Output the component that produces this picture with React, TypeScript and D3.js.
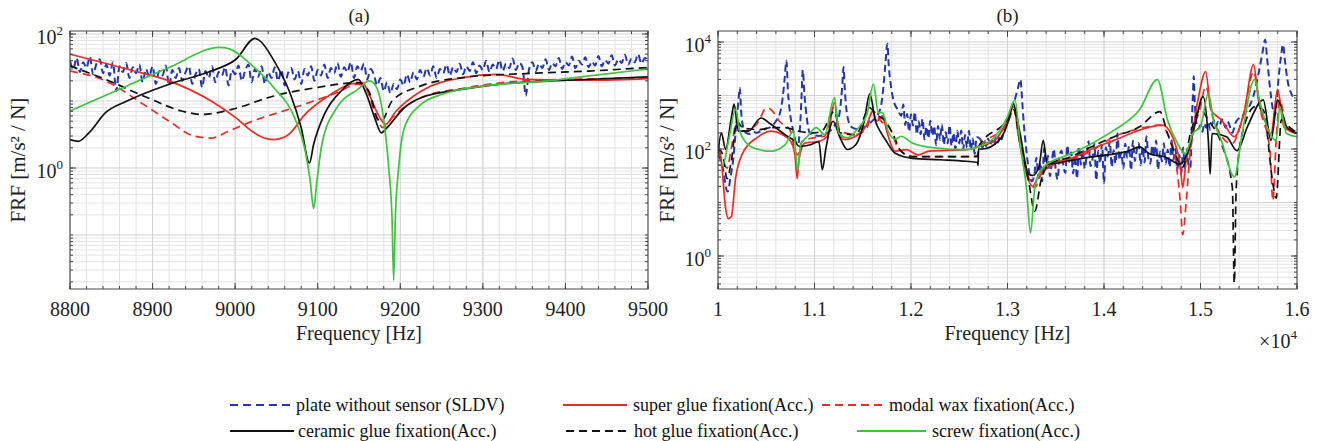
import * as d3 from "d3";
import React from "react";

type Pt = [number, number];

const FONT = "'Liberation Serif', Tinos, 'Times New Roman', 'DejaVu Serif', serif";
const W = 1323;
const H = 441;

// ---------- panel (a): 8800 - 9500 Hz ----------
const freqTicksA = [8800, 8900, 9000, 9100, 9200, 9300, 9400, 9500];
const decadesA = [0, 2];

const sldvA: Pt[] = [
  [8800, 40], [8804, 30], [8808, 44], [8812, 27], [8816, 38], [8820, 31], [8824, 46], [8828, 25],
  [8832, 36], [8836, 42], [8840, 26], [8844, 35], [8848, 24], [8852, 38], [8856, 14], [8860, 33],
  [8864, 27], [8868, 37], [8872, 22], [8876, 32], [8880, 26], [8884, 35], [8888, 19], [8892, 30],
  [8896, 23], [8900, 33], [8904, 18], [8908, 28], [8912, 24], [8916, 34], [8920, 17], [8924, 29],
  [8928, 22], [8932, 31], [8936, 20], [8940, 27], [8944, 33], [8948, 18], [8952, 25], [8956, 30],
  [8960, 16], [8964, 28], [8968, 22], [8972, 33], [8976, 19], [8980, 27], [8984, 24], [8988, 32],
  [8992, 17], [8996, 29], [9000, 25], [9004, 34], [9008, 20], [9012, 28], [9016, 35], [9020, 19],
  [9024, 30], [9028, 23], [9032, 33], [9036, 18], [9040, 27], [9044, 22], [9048, 32], [9052, 20],
  [9056, 29], [9060, 17], [9064, 26], [9068, 31], [9072, 21], [9076, 28], [9080, 18], [9084, 30],
  [9088, 24], [9092, 33], [9096, 20], [9100, 29], [9104, 24], [9108, 35], [9112, 22], [9116, 31],
  [9120, 26], [9124, 37], [9128, 23], [9132, 32], [9136, 27], [9140, 38], [9144, 22], [9148, 33],
  [9152, 28], [9156, 36], [9160, 21], [9164, 30], [9168, 25], [9172, 17], [9176, 22], [9180, 14],
  [9184, 19], [9188, 13], [9192, 18], [9196, 15], [9200, 21], [9204, 17], [9208, 25], [9212, 19],
  [9216, 27], [9220, 21], [9224, 29], [9228, 23], [9232, 31], [9236, 24], [9240, 33], [9244, 22],
  [9248, 30], [9252, 26], [9256, 35], [9260, 24], [9264, 32], [9268, 27], [9272, 36], [9276, 25],
  [9280, 33], [9284, 28], [9288, 38], [9292, 26], [9296, 34], [9300, 29], [9304, 40], [9308, 27],
  [9312, 35], [9316, 30], [9320, 41], [9324, 28], [9328, 36], [9332, 31], [9336, 43], [9340, 29],
  [9344, 37], [9348, 32], [9352, 12], [9356, 30], [9360, 38], [9364, 28], [9368, 36], [9372, 31],
  [9376, 42], [9380, 29], [9384, 37], [9388, 33], [9392, 44], [9396, 30], [9400, 38], [9404, 34],
  [9408, 46], [9412, 31], [9416, 40], [9420, 35], [9424, 45], [9428, 32], [9432, 39], [9436, 34],
  [9440, 47], [9444, 33], [9448, 41], [9452, 36], [9456, 48], [9460, 34], [9464, 42], [9468, 37],
  [9472, 49], [9476, 35], [9480, 43], [9484, 38], [9488, 50], [9492, 36], [9496, 44], [9500, 40],
];

const superGlueA: Pt[] = [
  [8800, 50], [8869, 30], [8920, 20], [8971, 10], [9001, 5.6], [9021, 3.5], [9035, 2.8], [9047, 2.66],
  [9060, 2.9], [9067, 3.35], [9083, 6], [9113, 11.9], [9139, 17.8], [9154, 18.8], [9164, 11.2],
  [9174, 6], [9182, 4.5], [9195, 7.1], [9225, 14], [9276, 22.4], [9317, 25], [9352, 21], [9429, 20.4],
  [9500, 21.6],
];

const modalWaxA: Pt[] = [
  [8800, 28], [8843, 20], [8889, 8.9], [8920, 5], [8950, 3], [8971, 2.8], [8991, 3.5], [9021, 5],
  [9072, 8], [9123, 13.3], [9149, 17.8], [9159, 15], [9172, 5.3], [9179, 4], [9190, 5.6],
  [9225, 11.2], [9276, 15.5], [9352, 20], [9500, 22],
];

const ceramicA: Pt[] = [
  [8800, 2.66], [8810, 2.5], [8823, 3.35], [8843, 6.7], [8869, 10], [8920, 17.8], [8971, 28],
  [9001, 42], [9024, 86], [9029, 81], [9047, 40], [9067, 12.6], [9080, 4], [9090, 1.19], [9095, 2.24],
  [9108, 6.3], [9128, 14], [9149, 21], [9159, 12.6], [9169, 5.6], [9177, 3.35], [9184, 4],
  [9205, 8], [9225, 11.2], [9276, 15], [9327, 18.2], [9403, 20.4], [9500, 23],
];

const hotGlueA: Pt[] = [
  [8800, 33.5], [8843, 21], [8894, 11.2], [8935, 7.1], [8960, 6.3], [8996, 7.5], [9047, 11.9],
  [9098, 15.8], [9149, 18.8], [9162, 14], [9172, 5.6], [9177, 5], [9190, 10], [9225, 16.8],
  [9276, 22.4], [9352, 25.7], [9429, 28], [9500, 31.6],
];

const screwA: Pt[] = [
  [8800, 7.1], [8869, 16.8], [8920, 31.6], [8981, 63], [8993, 60], [9021, 33.5], [9047, 15.8],
  [9072, 5.6], [9085, 1.78], [9091, 0.63], [9095, 0.25], [9099, 0.63], [9105, 2.24], [9123, 7.9],
  [9149, 15], [9162, 20], [9169, 17.8], [9179, 6.3], [9186, 1], [9190, 0.178], [9192, 0.021],
  [9194, 0.178], [9198, 1], [9205, 4], [9225, 8.9], [9251, 12.6], [9302, 16.8], [9378, 20],
  [9429, 23.7], [9500, 30],
];

// ---------- panel (b): 1.0 - 1.6 x10^4 Hz ----------
const freqTicksB = [1, 1.1, 1.2, 1.3, 1.4, 1.5, 1.6];
const decadesB = [0, 2, 4];

const sldvB: Pt[] = [
  [10000, 78], [10030, 60], [10060, 35], [10080, 20], [10100, 16], [10130, 30], [10160, 70],
  [10190, 300], [10215, 900], [10226, 1400], [10240, 500], [10260, 260], [10290, 200], [10330, 190],
  [10370, 210], [10400, 200], [10450, 220], [10500, 240], [10550, 260], [10600, 330], [10640, 450],
  [10670, 900], [10690, 2000], [10709, 4500], [10725, 1200], [10750, 420], [10780, 220], [10810, 130],
  [10830, 120], [10850, 260], [10865, 900], [10879, 3000], [10895, 1100], [10920, 380], [10950, 200],
  [11000, 180], [11050, 175], [11100, 190], [11150, 210], [11200, 260], [11250, 380], [11275, 800],
  [11290, 1800], [11301, 3400], [11315, 1200], [11340, 420], [11380, 260], [11420, 240], [11470, 230],
  [11520, 260], [11570, 300], [11610, 350], [11650, 420], [11690, 650], [11715, 1500], [11735, 4000],
  [11755, 9300], [11770, 3500], [11790, 1600], [11820, 800], [11860, 550], [11900, 420],
  [11920, 676], [11940, 282], [11960, 452], [11980, 211], [12000, 447], [12020, 275], [12040, 495],
  [12060, 188], [12080, 331], [12100, 188], [12120, 367], [12140, 151], [12160, 263], [12180, 158],
  [12200, 339], [12220, 176], [12240, 272], [12260, 119], [12280, 269], [12300, 148], [12320, 288],
  [12340, 119], [12360, 207], [12380, 127], [12400, 279], [12420, 115], [12440, 200], [12460, 100],
  [12480, 219], [12500, 127], [12520, 221], [12540, 97], [12560, 182], [12580, 106], [12600, 219],
  [12620, 95], [12640, 157], [12660, 81], [12680, 168],
  [12720, 151], [12740, 105], [12760, 141], [12780, 112], [12800, 158], [12820, 115], [12840, 148],
  [12860, 120], [12880, 166], [12900, 132], [12920, 178], [12940, 151], [12960, 209], [12980, 251],
  [13000, 355], [13040, 562], [13080, 891], [13110, 1413], [13135, 2000], [13150, 891], [13170, 282],
  [13200, 79], [13230, 32], [13255, 25], [13280, 35],
  [13300, 69], [13320, 29], [13340, 56], [13360, 25], [13380, 103], [13400, 43], [13420, 75], [13440, 31],
  [13460, 57], [13480, 100], [13500, 40], [13520, 27], [13540, 77], [13560, 93], [13580, 48], [13600, 36],
  [13620, 117], [13640, 57], [13660, 86], [13680, 35], [13700, 74], [13720, 28], [13740, 111], [13760, 51],
  [13780, 100], [13800, 43], [13820, 76], [13840, 140], [13860, 48], [13880, 63], [13900, 126], [13920, 26],
  [13940, 93], [13960, 54], [13980, 122], [14000, 23], [14020, 108], [14040, 73], [14060, 141], [14080, 46],
  [14100, 95], [14120, 54], [14140, 194], [14160, 62], [14180, 87], [14200, 43], [14220, 126], [14240, 69],
  [14260, 113], [14280, 40], [14300, 142], [14320, 60], [14340, 98], [14360, 129], [14380, 50], [14400, 109],
  [14420, 56], [14440, 174], [14460, 68], [14480, 53], [14500, 118], [14520, 74], [14540, 145], [14560, 41],
  [14580, 90], [14600, 59], [14620, 128], [14640, 53], [14660, 97], [14680, 46], [14700, 145], [14720, 63],
  [14740, 100], [14760, 41], [14780, 77], [14800, 34], [14820, 107], [14840, 44], [14860, 79], [14880, 46],
  [14895, 45], [14910, 300], [14920, 900], [14930, 2300], [14940, 800], [14955, 330], [14980, 240],
  [15000, 280], [15020, 210], [15040, 300], [15060, 250], [15080, 320], [15100, 230], [15120, 290],
  [15140, 340], [15160, 260], [15180, 320], [15200, 280], [15220, 360], [15240, 300], [15260, 250],
  [15280, 330], [15300, 280], [15330, 200], [15360, 300], [15400, 380], [15450, 450], [15500, 600],
  [15550, 1000], [15600, 2500], [15640, 6000], [15670, 11000], [15690, 5000], [15720, 1400],
  [15750, 550], [15770, 420], [15790, 800], [15810, 2200], [15835, 5500], [15855, 9000], [15875, 4500],
  [15900, 2000], [15940, 1100], [15970, 900], [16000, 830],
];

const superGlueB: Pt[] = [
  [10000, 120], [10035, 59], [10079, 7.8], [10108, 5], [10138, 5.4], [10182, 28], [10255, 83],
  [10401, 162], [10548, 215], [10665, 186], [10753, 139], [10797, 78], [10820, 28], [10841, 67],
  [10900, 129], [11046, 139], [11134, 173], [11207, 740], [11251, 215], [11310, 150], [11427, 173],
  [11544, 290], [11603, 510], [11647, 330], [11705, 415], [11749, 215], [11837, 91], [11954, 97],
  [12071, 78], [12189, 91], [12570, 97], [12696, 110], [12870, 145], [13000, 350], [13065, 620],
  [13109, 195], [13196, 34], [13261, 20], [13326, 34], [13435, 52], [13652, 66], [13870, 100],
  [14105, 145], [14368, 225], [14605, 280], [14737, 125], [14790, 50], [14816, 19], [14850, 60],
  [14895, 110], [14974, 830], [15054, 2800], [15108, 540], [15216, 350], [15351, 170], [15450, 470],
  [15550, 3800], [15600, 830], [15680, 300], [15730, 195], [15800, 1290], [15865, 260], [16000, 195],
];

const modalWaxB: Pt[] = [
  [10000, 91], [10050, 59], [10094, 44], [10138, 105], [10196, 330], [10255, 215], [10401, 290],
  [10504, 580], [10548, 550], [10636, 330], [10753, 215], [10797, 91], [10826, 78], [10870, 138],
  [10987, 162], [11105, 173], [11207, 630], [11265, 215], [11427, 186], [11544, 250], [11603, 510],
  [11690, 330], [11778, 250], [11866, 105], [12013, 72], [12306, 72], [12570, 72], [12690, 76],
  [12700, 100], [13000, 300], [13065, 540], [13130, 145], [13217, 30], [13283, 19], [13348, 34],
  [13435, 46], [13652, 62], [13870, 93], [14105, 170], [14368, 240], [14579, 280], [14658, 195],
  [14737, 71], [14789, 11], [14816, 2.5], [14853, 11], [14895, 93], [15000, 620], [15054, 1480],
  [15135, 350], [15324, 126], [15450, 470], [15550, 2800], [15620, 540], [15720, 93], [15750, 10.8],
  [15784, 145], [15822, 830], [15892, 260], [16000, 210],
];

const ceramicB: Pt[] = [
  [10000, 83], [10035, 200], [10079, 98], [10138, 380], [10167, 690], [10211, 215], [10314, 215],
  [10445, 380], [10548, 290], [10694, 186], [10797, 138], [10841, 112], [10958, 120], [11046, 138],
  [11081, 41], [11119, 105], [11192, 330], [11265, 162], [11339, 98], [11427, 120], [11515, 330],
  [11573, 1070], [11632, 330], [11690, 200], [11734, 150], [11837, 83], [12013, 67], [12306, 63],
  [12570, 59], [12690, 56], [12695, 49], [12700, 100], [12740, 100], [12913, 145], [13022, 400],
  [13057, 725], [13130, 195], [13217, 34], [13261, 32], [13326, 46], [13370, 145], [13413, 52],
  [13652, 61], [13870, 71], [14105, 81], [14263, 93], [14368, 110], [14474, 81], [14632, 71],
  [14789, 52], [14868, 87], [14937, 260], [15027, 950], [15081, 145], [15100, 34], [15120, 195],
  [15270, 170], [15378, 93], [15486, 260], [15650, 830], [15730, 145], [15800, 830], [15892, 260],
  [16000, 195],
];

const hotGlueB: Pt[] = [
  [10000, 105], [10050, 78], [10094, 28], [10138, 59], [10196, 330], [10255, 250], [10431, 230],
  [10548, 250], [10694, 250], [10841, 215], [10987, 200], [11075, 215], [11207, 510], [11265, 200],
  [11427, 186], [11573, 590], [11632, 450], [11720, 355], [11808, 200], [11896, 91], [12013, 72],
  [12306, 72], [12570, 72], [12690, 72], [12700, 110], [13000, 350], [13065, 540], [13130, 126],
  [13217, 26], [13283, 6.9], [13348, 26], [13435, 52], [13652, 71], [13870, 110], [14105, 170],
  [14368, 260], [14579, 500], [14658, 195], [14737, 81], [14816, 46], [14895, 195], [15000, 540],
  [15081, 350], [15216, 126], [15330, 19], [15350, 0.31], [15370, 19], [15432, 195], [15568, 620],
  [15649, 540], [15757, 19], [15784, 12], [15838, 350], [15919, 260], [16000, 195],
];

const screwB: Pt[] = [
  [10000, 50], [10050, 50], [10108, 138], [10182, 550], [10226, 215], [10314, 120], [10431, 97],
  [10548, 91], [10694, 120], [10782, 215], [10826, 40], [10856, 120], [10929, 173], [11017, 250],
  [11105, 186], [11207, 910], [11251, 200], [11339, 162], [11456, 250], [11544, 450], [11611, 1630],
  [11661, 480], [11705, 480], [11764, 215], [11837, 152], [11896, 173], [12013, 130], [12247, 105],
  [12570, 97], [12696, 110], [12870, 170], [13000, 400], [13078, 830], [13130, 126], [13196, 19],
  [13239, 2.7], [13283, 19], [13370, 46], [13652, 81], [13870, 126], [14105, 225], [14368, 540],
  [14553, 1990], [14658, 350], [14763, 126], [14842, 81], [14921, 195], [15000, 260], [15081, 1100],
  [15135, 350], [15216, 145], [15351, 30], [15432, 195], [15560, 2000], [15610, 830], [15703, 225],
  [15784, 145], [15822, 620], [15892, 195], [16000, 170],
];

// ---------- legend ----------
const legendLabels = [
  "plate without sensor (SLDV)",
  "super glue fixation(Acc.)",
  "modal wax fixation(Acc.)",
  "ceramic glue fixation(Acc.)",
  "hot glue fixation(Acc.)",
  "screw fixation(Acc.)",
];

const styles = [
  { color: "#2335b0", dash: "7,4", w: 2 },
  { color: "#ee2a24", dash: "", w: 1.7 },
  { color: "#ee2a24", dash: "8,5", w: 1.7 },
  { color: "#111111", dash: "", w: 1.7 },
  { color: "#111111", dash: "8,5", w: 1.7 },
  { color: "#3cc43c", dash: "", w: 1.7 },
];

const seriesA = [sldvA, superGlueA, modalWaxA, ceramicA, hotGlueA, screwA];
const seriesB = [sldvB, superGlueB, modalWaxB, ceramicB, hotGlueB, screwB];

type PanelProps = {
  id: string;
  left: number;
  right: number;
  top: number;
  bottom: number;
  xDomain: [number, number];
  yDomain: [number, number];
  xTicks: number[];
  xMinor: number;
  xScale: number;
  decades: number[];
  title: string;
  yLabelX: number;
  series: Pt[][];
};

function Panel(p: PanelProps) {
  const x = d3.scaleLinear().domain(p.xDomain).range([p.left, p.right]);
  const y = d3.scaleLog().domain(p.yDomain).range([p.bottom, p.top]);
  const line = d3
    .line<Pt>()
    .x((d) => x(d[0]))
    .y((d) => y(d[1]))
    .curve(d3.curveMonotoneX);

  const minorX = d3.range(p.xDomain[0], p.xDomain[1] + 1e-6, p.xMinor);
  const yMinor: number[] = [];
  const e0 = Math.floor(Math.log10(p.yDomain[0]));
  const e1 = Math.ceil(Math.log10(p.yDomain[1]));
  for (let e = e0; e <= e1; e++) {
    for (let m = 1; m <= 9; m++) {
      const v = m * Math.pow(10, e);
      if (v >= p.yDomain[0] && v <= p.yDomain[1]) yMinor.push(v);
    }
  }
  const cx = (p.left + p.right) / 2;
  const cy = (p.top + p.bottom) / 2;

  return (
    <g>
      <defs>
        <clipPath id={p.id}>
          <rect x={p.left} y={p.top} width={p.right - p.left} height={p.bottom - p.top} />
        </clipPath>
      </defs>
      {/* grid */}
      {minorX.map((v, i) => (
        <line key={"gx" + i} x1={x(v)} x2={x(v)} y1={p.top} y2={p.bottom} stroke="#e2e2e2" strokeWidth={1} />
      ))}
      {yMinor.map((v, i) => (
        <line key={"gy" + i} x1={p.left} x2={p.right} y1={y(v)} y2={y(v)}
          stroke={Math.abs(Math.log10(v) % 1) < 1e-9 ? "#d2d2d2" : "#e4e4e4"} strokeWidth={1} />
      ))}
      {p.xTicks.map((v, i) => (
        <line key={"gX" + i} x1={x(v * p.xScale)} x2={x(v * p.xScale)} y1={p.top} y2={p.bottom} stroke="#d2d2d2" />
      ))}
      {/* data */}
      <g clipPath={`url(#${p.id})`}>
        {p.series.map((s, i) => (
          <path key={i} d={line(s) || ""} fill="none" stroke={styles[i].color} strokeWidth={styles[i].w}
            strokeDasharray={styles[i].dash} strokeLinejoin="round" />
        ))}
      </g>
      {/* ticks */}
      {minorX.map((v, i) => (
        <g key={"tx" + i} stroke="#444">
          <line x1={x(v)} x2={x(v)} y1={p.bottom} y2={p.bottom - 3} />
          <line x1={x(v)} x2={x(v)} y1={p.top} y2={p.top + 3} />
        </g>
      ))}
      {yMinor.map((v, i) => (
        <g key={"ty" + i} stroke="#444">
          <line x1={p.left} x2={p.left + 3} y1={y(v)} y2={y(v)} />
          <line x1={p.right} x2={p.right - 3} y1={y(v)} y2={y(v)} />
        </g>
      ))}
      {p.xTicks.map((v, i) => (
        <g key={"tX" + i} stroke="#444">
          <line x1={x(v * p.xScale)} x2={x(v * p.xScale)} y1={p.bottom} y2={p.bottom - 6} />
          <line x1={x(v * p.xScale)} x2={x(v * p.xScale)} y1={p.top} y2={p.top + 6} />
        </g>
      ))}
      {p.decades.map((d, i) => (
        <g key={"tY" + i} stroke="#444">
          <line x1={p.left} x2={p.left + 6} y1={y(Math.pow(10, d))} y2={y(Math.pow(10, d))} />
          <line x1={p.right} x2={p.right - 6} y1={y(Math.pow(10, d))} y2={y(Math.pow(10, d))} />
        </g>
      ))}
      <rect x={p.left} y={p.top} width={p.right - p.left} height={p.bottom - p.top} fill="none" stroke="#444" strokeWidth={1} />
      {/* labels */}
      <g style={{ fontFamily: FONT }} fill="#222">
        {p.xTicks.map((v, i) => (
          <text key={"lx" + i} x={x(v * p.xScale)} y={316} fontSize={20} textAnchor="middle">{String(v)}</text>
        ))}
        {p.decades.map((d, i) => (
          <text key={"ly" + i} x={p.left - 7} y={y(Math.pow(10, d)) + 10} fontSize={20} textAnchor="end">
            10<tspan dy={-9} fontSize={13}>{d}</tspan>
          </text>
        ))}
        <text x={cx} y={22} fontSize={19} textAnchor="middle">{p.title}</text>
        <text x={cx} y={340} fontSize={20} textAnchor="middle">Frequency [Hz]</text>
        <text transform={`translate(${p.yLabelX},${cy}) rotate(-90)`} fontSize={21}
          textAnchor="middle" dominantBaseline="central">FRF [m/s² / N]</text>
      </g>
    </g>
  );
}

const legendRows = [
  [
    { s: 0, x1: 230, x2: 290, tx: 296 },
    { s: 1, x1: 563, x2: 627, tx: 633 },
    { s: 2, x1: 822, x2: 882, tx: 889 },
  ],
  [
    { s: 3, x1: 230, x2: 294, tx: 298 },
    { s: 4, x1: 566, x2: 626, tx: 634 },
    { s: 5, x1: 857, x2: 926, tx: 932 },
  ],
];
const legendY = [405, 431];

export default function App() {
  return (
    <svg width={W} height={H} style={{ position: "absolute", left: 0, top: 0, background: "#fff" }}>
      <rect width={W} height={H} fill="#fff" />
      <Panel id="clipA" left={70} right={648} top={31} bottom={289}
        xDomain={[8800, 9500]} yDomain={[Math.pow(10, -1.806), Math.pow(10, 2.045)]}
        xTicks={freqTicksA} xMinor={20} xScale={1} decades={decadesA} title="(a)" yLabelX={18}
        series={seriesA} />
      <Panel id="clipB" left={718} right={1297} top={31} bottom={289}
        xDomain={[10000, 16000]} yDomain={[Math.pow(10, -0.617), Math.pow(10, 4.206)]}
        xTicks={freqTicksB} xMinor={200} xScale={10000} decades={decadesB} title="(b)" yLabelX={667}
        series={seriesB} />
      <g style={{ fontFamily: FONT }}>
        <text x={1278} y={348} fontSize={20} textAnchor="middle" fill="#222">
          ×10<tspan dy={-9} fontSize={13}>4</tspan>
        </text>
        {legendRows.map((row, r) =>
          row.map((e) => (
            <g key={e.s}>
              <line x1={e.x1} x2={e.x2} y1={legendY[r]} y2={legendY[r]} stroke={styles[e.s].color}
                strokeWidth={2} strokeDasharray={e.s === 0 ? "8,5" : styles[e.s].dash} />
              <text x={e.tx} y={legendY[r] + 6} fontSize={18} fill="#111">
                {legendLabels[e.s]}
              </text>
            </g>
          ))
        )}
      </g>
    </svg>
  );
}
